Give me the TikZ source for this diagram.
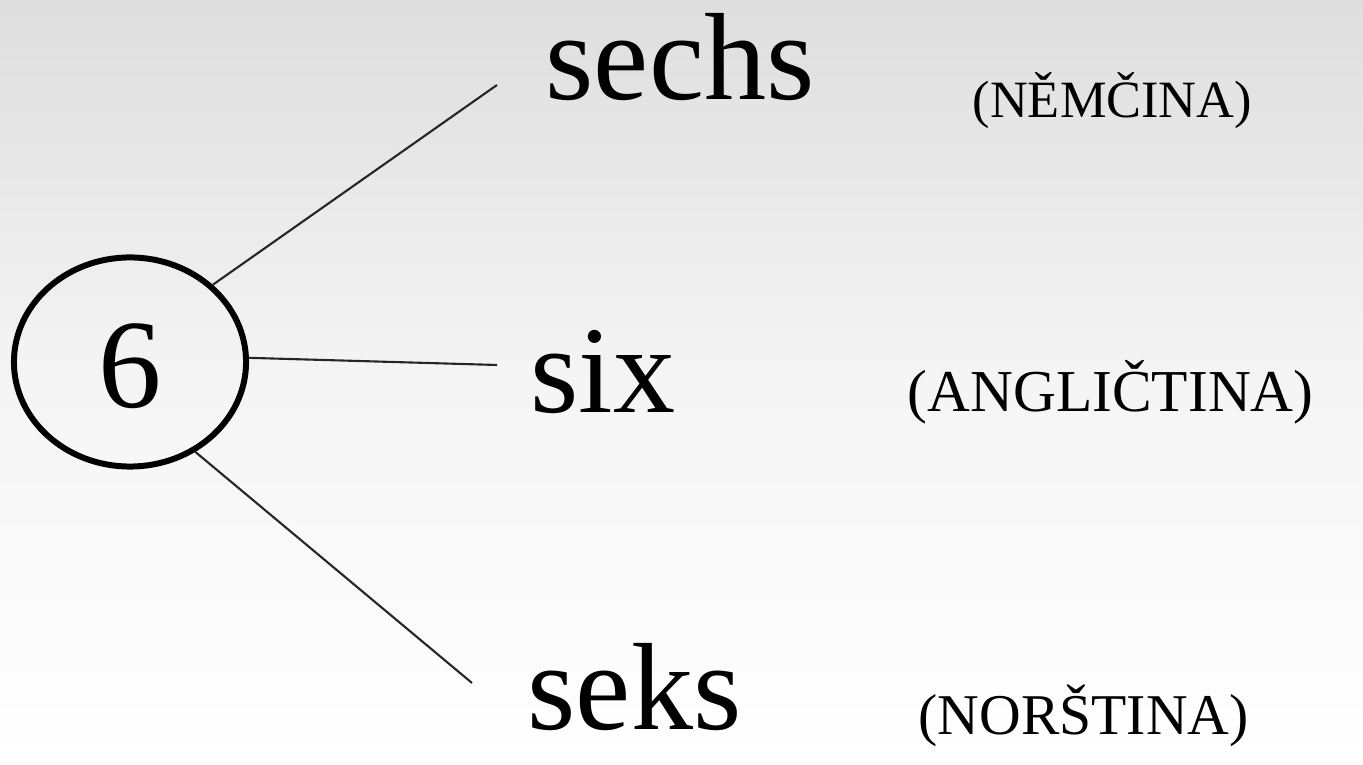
\documentclass[tikz,border=0pt]{standalone}
\usepackage{fontspec}
\setmainfont{Liberation Serif}
\usetikzlibrary{shapes.geometric}
\begin{document}
\begin{tikzpicture}[x=0.01cm,y=-0.01cm,
  word/.style={anchor=base west,inner sep=0pt,font=\fontsize{35.3}{40}\selectfont},
  lang/.style={anchor=base west,inner sep=0pt},
  link/.style={line width=0.6pt,black!85}]
\shade[top color=black!13,bottom color=white,middle color=black!4] (0,0) rectangle (1363,765);
\useasboundingbox (0,0) rectangle (1363,765);
\node[ellipse,draw,line width=1.7pt,minimum width=2.32cm,minimum height=2.09cm,inner sep=0pt] (c) at (130,362) {};
\node[anchor=base,inner sep=0pt,font=\fontsize{36}{40}\selectfont] (six6) at (130,408) {6};
\node[word] (w1) at (545,100) {sechs};
\node[word] (w2) at (530,413) {six};
\node[word] (w3) at (527,730) {seks};
\node[lang,font=\fontsize{14.9}{18}\selectfont] (l1) at (972,118) {(NĚMČINA)};
\node[lang,font=\fontsize{16.9}{20}\selectfont] (l2) at (907,412) {(ANGLIČTINA)};
\node[lang,font=\fontsize{16.4}{20}\selectfont] (l3) at (918,735) {(NORŠTINA)};
\coordinate (e1) at (497,85);
\coordinate (e2) at (497,365);
\coordinate (e3) at (472,683);
\draw[link] (c.43) -- (e1);
\draw[link] (c.2) -- (e2);
\draw[link] (c.-54) -- (e3);
\end{tikzpicture}
\end{document}
